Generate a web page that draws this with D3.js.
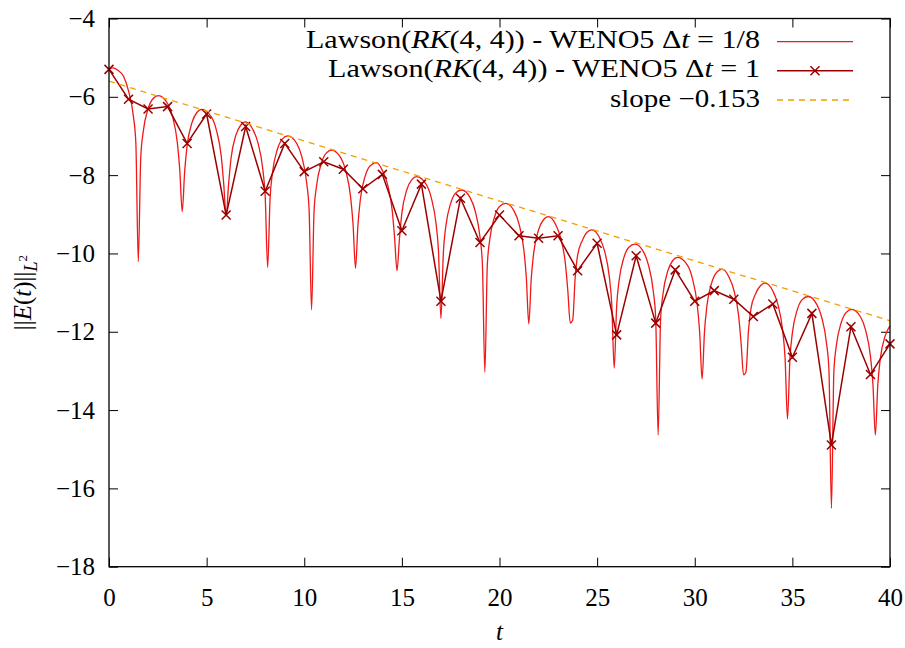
<html>
<head><meta charset="utf-8"></head>
<script src="https://d3js.org/d3.v7.min.js"></script>
<body style="margin:0; background:#fff;">
<div id="chart"></div>
<script>
// Delta t = 1/8 run (dips, peaks and shoulders)
const tFine = [0, 0.2, 0.45, 0.75, 1.0, 1.25, 1.375, 1.5,
  1.625, 1.75, 2.0, 2.25, 2.53, 3.0, 3.25, 3.5, 3.625, 3.75,
  3.875, 4.0, 4.25, 4.5, 4.75, 5.25, 5.5, 5.75, 5.875, 6.0,
  6.125, 6.25, 6.5, 6.75, 6.97, 7.375, 7.625, 7.875, 8.0, 8.125,
  8.25, 8.375, 8.625, 8.875, 9.15, 9.625, 9.875, 10.125, 10.25, 10.375,
  10.5, 10.625, 10.875, 11.125, 11.4, 11.875, 12.125, 12.375, 12.5, 12.625,
  12.75, 12.875, 13.125, 13.375, 13.71, 14.0, 14.25, 14.5, 14.625, 14.75,
  14.875, 15.0, 15.25, 15.5, 15.76, 16.25, 16.5, 16.75, 16.875, 17.0,
  17.125, 17.25, 17.5, 17.75, 18.06, 18.5, 18.75, 19.0, 19.125, 19.25,
  19.375, 19.5, 19.75, 20.0, 20.32, 20.75, 21.0, 21.25, 21.375, 21.5,
  21.625, 21.75, 22.0, 22.25, 22.5, 22.875, 23.125, 23.375, 23.5, 23.625, 23.75,
  23.875, 24.0, 24.25, 24.5, 24.72, 25.125, 25.375, 25.625, 25.75, 25.875,
  26.0, 26.125, 26.375, 26.625, 26.94, 27.375, 27.625, 27.875, 28.0, 28.125,
  28.25, 28.375, 28.625, 28.875, 29.12, 29.625, 29.875, 30.125, 30.25, 30.375,
  30.5, 30.625, 30.875, 31.125, 31.41, 31.75, 32.0, 32.25, 32.375, 32.5, 32.625,
  32.75, 32.875, 33.125, 33.375, 33.6, 34.0, 34.25, 34.5, 34.625, 34.75,
  34.875, 35.0, 35.25, 35.5, 35.81, 36.25, 36.5, 36.75, 36.875, 37.0,
  37.125, 37.25, 37.5, 37.75, 38.04, 38.5, 38.75, 39.0, 39.125, 39.25,
  39.375, 39.5, 39.75, 40.0];
const eFine = [-5.30, -5.26, -5.32, -5.48, -5.85, -6.50, -7.18, -10.21,
  -7.56, -6.90, -6.31, -6.05, -5.97, -6.17, -6.50, -7.17, -7.87, -8.93,
  -7.91, -7.25, -6.66, -6.40, -6.32, -6.52, -6.85, -7.52, -8.22, -9.04,
  -8.23, -7.57, -6.98, -6.72, -6.64, -6.84, -7.17, -7.84, -8.54, -10.36,
  -8.59, -7.93, -7.34, -7.08, -7.00, -7.20, -7.53, -8.20, -8.90, -11.44,
  -8.95, -8.29, -7.70, -7.44, -7.36, -7.56, -7.89, -8.56, -9.26, -10.38,
  -9.27, -8.61, -8.02, -7.76, -7.68, -7.88, -8.21, -8.88, -9.58, -10.44,
  -9.63, -8.97, -8.38, -8.12, -8.04, -8.24, -8.57, -9.24, -9.94, -11.66,
  -9.97, -9.31, -8.72, -8.46, -8.38, -8.58, -8.91, -9.58, -10.28, -13.03,
  -10.31, -9.65, -9.06, -8.80, -8.72, -8.92, -9.25, -9.92, -10.62, -11.80,
  -10.65, -9.99, -9.40, -9.14, -9.06, -9.26, -9.59, -10.26, -10.96, -11.78, -11.70,
  -10.62, -10.05, -9.66, -9.45, -9.40, -9.60, -9.93, -10.60, -11.30, -12.93,
  -11.35, -10.69, -10.10, -9.84, -9.76, -9.96, -10.29, -10.96, -11.66, -14.64,
  -11.69, -11.03, -10.44, -10.18, -10.10, -10.30, -10.63, -11.30, -12.00, -13.21,
  -11.99, -11.33, -10.74, -10.48, -10.40, -10.60, -10.93, -11.60, -12.30, -13.10, -13.02,
  -11.98, -11.42, -11.02, -10.82, -10.76, -10.96, -11.29, -11.96, -12.66, -14.23,
  -12.69, -12.03, -11.44, -11.18, -11.10, -11.30, -11.63, -12.30, -13.00, -16.51,
  -13.02, -12.36, -11.77, -11.51, -11.43, -11.63, -11.96, -12.63, -13.33, -14.64,
  -13.36, -12.70, -12.11, -11.85];

// Delta t = 1 run, one value per unit of t
const tCoarse = d3.range(0, 41);
const eCoarse = [-5.30, -6.06, -6.31, -6.25, -7.19, -6.44, -9.02, -6.76, -8.41, -7.19,
  -7.91, -7.66, -7.85, -8.35, -7.98, -9.42, -8.23, -11.22, -8.59, -9.72,
  -9.02, -9.55, -9.61, -9.55, -10.44, -9.74, -12.08, -10.06, -11.78, -10.42,
  -11.22, -10.95, -11.17, -11.61, -11.29, -12.65, -11.53, -14.89, -11.87, -13.09,
  -12.31];

// slope -0.153 reference line
const tSlope = [0, 40];
const eSlope = [-5.60, -11.72];

const xTicks = [0, 5, 10, 15, 20, 25, 30, 35, 40];
const yTicks = [-18, -16, -14, -12, -10, -8, -6, -4];

const W = 905, H = 648;
const mLeft = 109, mRight = 890, mTop = 18.5, mBottom = 566.7;
const fontSize = 25;

const svg = d3.select('#chart').append('svg')
    .attr('width', W).attr('height', H)
    .style('font-family', '"Liberation Serif", "DejaVu Serif", serif');

let x = d3.scaleLinear().domain([0, 40]).range([mLeft, mRight]);
let y = d3.scaleLinear().domain([-18, -4]).range([mBottom, mTop]);

function styleAxis(g) {
    g.select('.domain').remove();
    g.selectAll('.tick line').attr('stroke', '#000').attr('stroke-width', 1);
    g.selectAll('.tick text').attr('fill', '#000');
    g.attr('font-size', fontSize).attr('font-family', null);
}

svg.append('g')
    .attr('transform', `translate(0,${mBottom})`)
    .call(d3.axisBottom(x).tickValues(xTicks).tickSize(-9).tickPadding(22).tickFormat(d3.format('d')))
    .call(styleAxis);
svg.append('g')
    .attr('transform', `translate(0,${mTop})`)
    .call(d3.axisTop(x).tickValues(xTicks).tickSize(-9).tickFormat(''))
    .call(styleAxis);
svg.append('g')
    .attr('transform', `translate(${mLeft},0)`)
    .call(d3.axisLeft(y).tickValues(yTicks).tickSize(-9).tickPadding(14).tickFormat(d3.format('d')))
    .call(styleAxis);
svg.append('g')
    .attr('transform', `translate(${mRight},0)`)
    .call(d3.axisRight(y).tickValues(yTicks).tickSize(-9).tickFormat(''))
    .call(styleAxis);

// series
let fine = tFine.map((t, i) => [t, eFine[i]]);
let coarse = tCoarse.map((t, i) => [t, eCoarse[i]]);
let slope = tSlope.map((t, i) => [t, eSlope[i]]);

const fineColor = '#f01818', coarseColor = '#9b0000', slopeColor = '#f0a000';

svg.append('path')
    .datum(fine)
    .attr('fill', 'none')
    .attr('stroke', fineColor)
    .attr('stroke-width', 1.3)
    .attr('stroke-linejoin', 'round')
    .attr('d', d3.line().x(d => x(d[0])).y(d => y(d[1])).curve(d3.curveMonotoneX));

svg.append('path')
    .datum(coarse)
    .attr('fill', 'none')
    .attr('stroke', coarseColor)
    .attr('stroke-width', 1.5)
    .attr('d', d3.line().x(d => x(d[0])).y(d => y(d[1])));

const cross = 'M-4.5,-4.5L4.5,4.5M-4.5,4.5L4.5,-4.5';
svg.selectAll('.pt').data(coarse).enter().append('path')
    .attr('class', 'pt')
    .attr('transform', d => `translate(${x(d[0])},${y(d[1])})`)
    .attr('d', cross)
    .attr('stroke', coarseColor)
    .attr('stroke-width', 1.5)
    .attr('fill', 'none');

svg.append('path')
    .datum(slope)
    .attr('fill', 'none')
    .attr('stroke', slopeColor)
    .attr('stroke-width', 1.3)
    .attr('stroke-dasharray', '6,5')
    .attr('d', d3.line().x(d => x(d[0])).y(d => y(d[1])));

// frame
svg.append('rect')
    .attr('x', mLeft).attr('y', mTop)
    .attr('width', mRight - mLeft).attr('height', mBottom - mTop)
    .attr('fill', 'none').attr('stroke', '#000').attr('stroke-width', 1.3);

// legend
const legend = svg.append('g').attr('font-size', fontSize);
const textRight = 760, sx0 = 777, sx1 = 853;
const rows = [41.7, 70.7, 100];

function lawson(g, yy, tail, width) {
    let t = g.append('text').attr('x', textRight).attr('y', yy + 6.5)
        .attr('text-anchor', 'end')
        .attr('textLength', width).attr('lengthAdjust', 'spacingAndGlyphs');
    t.append('tspan').text('Lawson(');
    t.append('tspan').attr('font-style', 'italic').text('RK');
    t.append('tspan').text('(4, 4)) - WENO5 \u0394');
    t.append('tspan').attr('font-style', 'italic').text('t');
    t.append('tspan').text(' = ' + tail);
}
lawson(legend, rows[0], '1/8', 454);
lawson(legend, rows[1], '1', 432);
legend.append('text').attr('x', textRight).attr('y', rows[2] + 6.5)
    .attr('text-anchor', 'end')
    .attr('textLength', 150).attr('lengthAdjust', 'spacingAndGlyphs')
    .text('slope \u22120.153');

legend.append('line').attr('x1', sx0).attr('x2', sx1).attr('y1', rows[0]).attr('y2', rows[0])
    .attr('stroke', fineColor).attr('stroke-width', 1.3);
legend.append('line').attr('x1', sx0).attr('x2', sx1).attr('y1', rows[1]).attr('y2', rows[1])
    .attr('stroke', coarseColor).attr('stroke-width', 1.5);
legend.append('path').attr('transform', `translate(${(sx0 + sx1) / 2},${rows[1]})`)
    .attr('d', cross).attr('stroke', coarseColor).attr('stroke-width', 1.5);
legend.append('line').attr('x1', sx0).attr('x2', sx1).attr('y1', rows[2]).attr('y2', rows[2])
    .attr('stroke', slopeColor).attr('stroke-width', 1.3).attr('stroke-dasharray', '6,5');

// axis titles
svg.append('text')
    .attr('x', (mLeft + mRight) / 2).attr('y', 640)
    .attr('text-anchor', 'middle').attr('font-size', fontSize)
    .attr('font-style', 'italic').text('t');

let yl = svg.append('text')
    .attr('transform', `translate(31,${(mTop + mBottom) / 2}) rotate(-90)`)
    .attr('text-anchor', 'middle').attr('font-size', fontSize);
yl.append('tspan').text('||');
yl.append('tspan').attr('font-style', 'italic').text('E');
yl.append('tspan').text('(');
yl.append('tspan').attr('font-style', 'italic').text('t');
yl.append('tspan').text(')||');
yl.append('tspan').attr('font-style', 'italic').attr('font-size', 18).attr('dy', 6).text('L');
yl.append('tspan').attr('font-size', 13).attr('dy', -10).text('2');
</script>
</body>
</html>
